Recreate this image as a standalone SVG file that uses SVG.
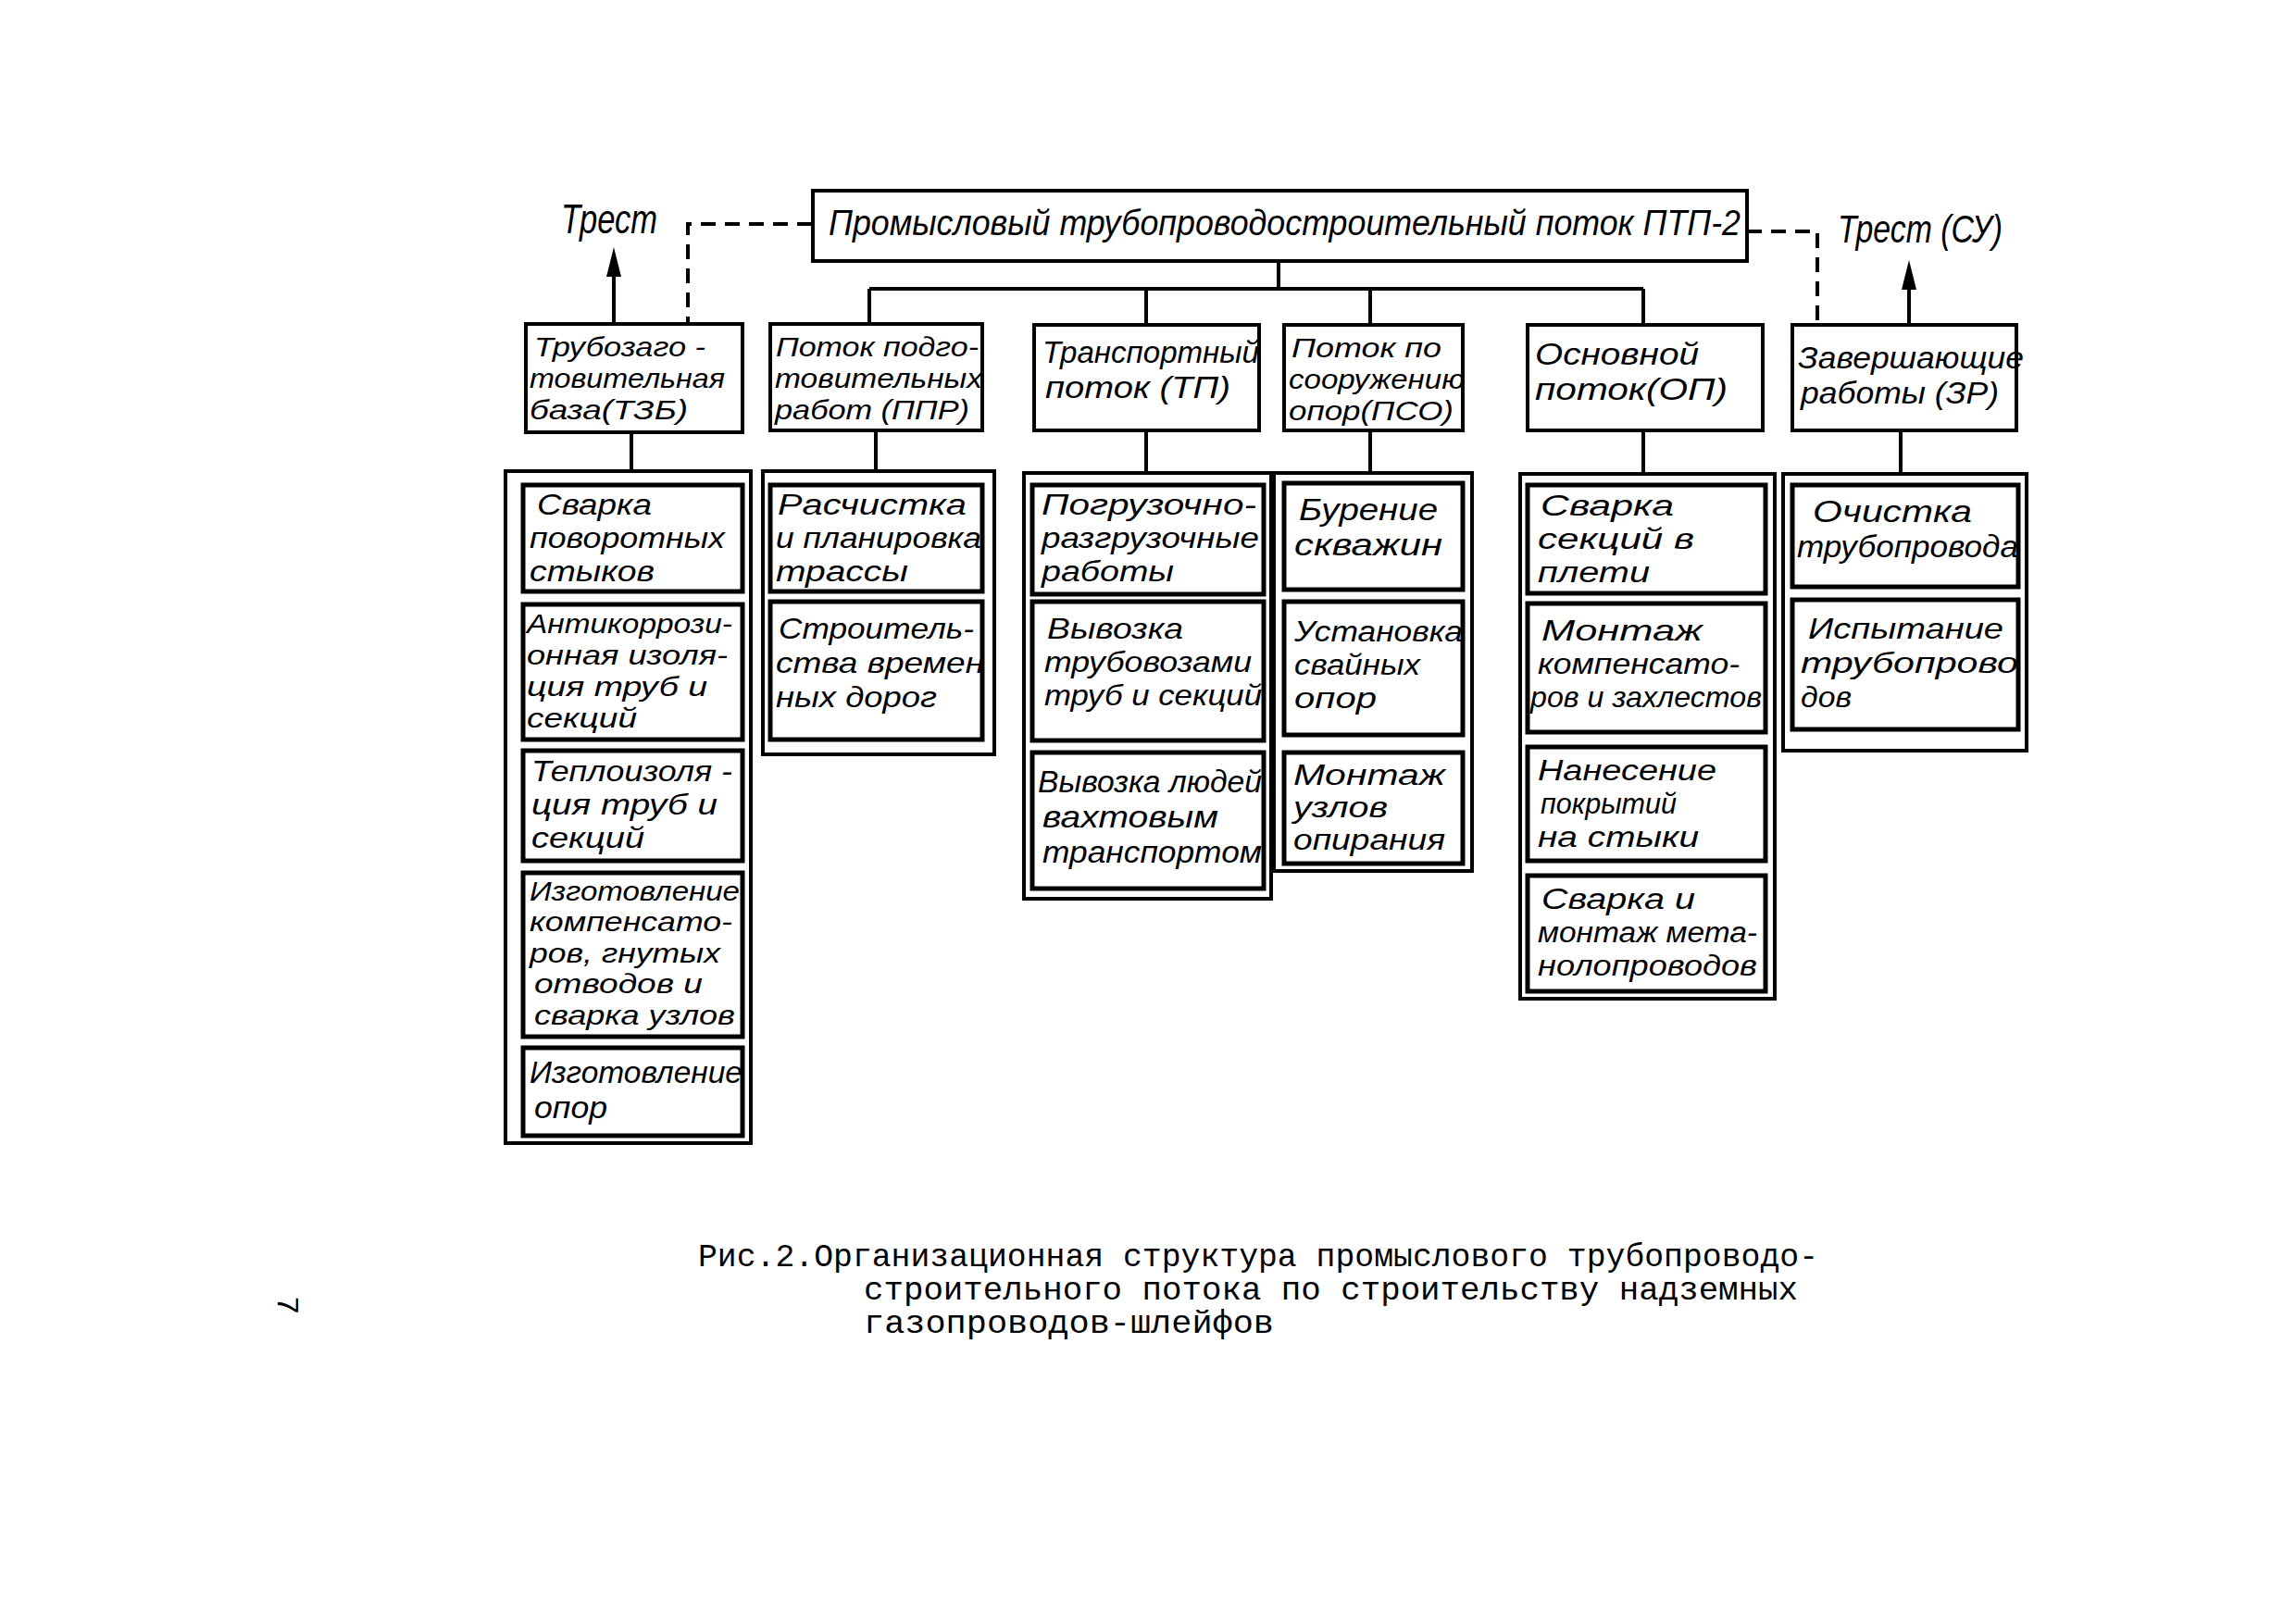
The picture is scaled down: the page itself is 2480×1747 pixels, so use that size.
<svg xmlns="http://www.w3.org/2000/svg" width="2480" height="1747" viewBox="0 0 2480 1747">
<style>
.box{fill:#fff;stroke:#000;stroke-width:4}
.outer{fill:none;stroke:#000;stroke-width:4}
.inner{fill:#fff;stroke:#000;stroke-width:5}
.t{font-family:"Liberation Sans",Arial,sans-serif;font-style:italic;fill:#000;font-size:31px}
.f29{font-size:29px}
.f30{font-size:30px}
.f32{font-size:32px}
.f33{font-size:33px}
.f34{font-size:34px}
.cap{font-family:"Liberation Mono","Courier New",monospace;fill:#000;font-size:35px}
.ln{stroke:#000;stroke-width:4;fill:none}
.dash{stroke-dasharray:16 10}
</style>
<defs>
<marker id="arr" viewBox="0 0 32 16" refX="20" refY="8" markerWidth="32" markerHeight="16" markerUnits="userSpaceOnUse" orient="auto">
<path d="M0,0 L32,8 L0,16 z" fill="#000"/>
</marker>
</defs>
<rect width="2480" height="1747" fill="#fff"/>

<g id="connectors">
<line class="ln" x1="1381" y1="282" x2="1381" y2="312"/>
<line class="ln" x1="939" y1="312" x2="1775" y2="312"/>
<line class="ln" x1="939" y1="312" x2="939" y2="350"/>
<line class="ln" x1="1238" y1="312" x2="1238" y2="351"/>
<line class="ln" x1="1480" y1="312" x2="1480" y2="351"/>
<line class="ln" x1="1775" y1="312" x2="1775" y2="351"/>
<polyline class="ln dash" points="877,242 743,242 743,348"/>
<polyline class="ln dash" points="1887,250 1963,250 1963,350"/>
<line class="ln" x1="663" y1="348" x2="663" y2="279" marker-end="url(#arr)"/>
<line class="ln" x1="2062" y1="350" x2="2062" y2="293" marker-end="url(#arr)"/>
<line class="ln" x1="682" y1="467" x2="682" y2="509"/>
<line class="ln" x1="946" y1="465" x2="946" y2="509"/>
<line class="ln" x1="1238" y1="465" x2="1238" y2="511"/>
<line class="ln" x1="1480" y1="465" x2="1480" y2="511"/>
<line class="ln" x1="1775" y1="465" x2="1775" y2="512"/>
<line class="ln" x1="2053" y1="465" x2="2053" y2="512"/>
</g>

<g id="trest-left"><text class="t" x="606" y="252" style="font-size:44px" textLength="104" lengthAdjust="spacingAndGlyphs">Трест</text></g>
<g id="trest-right"><text class="t" x="1985" y="262" style="font-size:42px" textLength="178" lengthAdjust="spacingAndGlyphs">Трест (СУ)</text></g>

<g id="main">
<rect class="box" x="878" y="206" width="1009" height="76"/>
<text class="t" x="895" y="254" style="font-size:38px" textLength="985" lengthAdjust="spacingAndGlyphs">Промысловый трубопроводостроительный поток ПТП-2</text>
</g>

<g id="tzb">
<rect class="box" x="568" y="350" width="234" height="117"/>
<text class="t f30" x="577" y="385" textLength="185" lengthAdjust="spacingAndGlyphs">Трубозаго -</text>
<text class="t f30" x="572" y="419" textLength="211" lengthAdjust="spacingAndGlyphs">товительная</text>
<text class="t f30" x="572" y="453" textLength="171" lengthAdjust="spacingAndGlyphs">база(ТЗБ)</text>
</g>
<g id="ppr">
<rect class="box" x="832" y="350" width="229" height="115"/>
<text class="t f30" x="838" y="385" textLength="219" lengthAdjust="spacingAndGlyphs">Поток подго-</text>
<text class="t f30" x="837" y="419" textLength="224" lengthAdjust="spacingAndGlyphs">товительных</text>
<text class="t f30" x="837" y="453" textLength="210" lengthAdjust="spacingAndGlyphs">работ (ППР)</text>
</g>
<g id="tp">
<rect class="box" x="1117" y="351" width="243" height="114"/>
<text class="t f34" x="1126" y="392" textLength="234" lengthAdjust="spacingAndGlyphs">Транспортный</text>
<text class="t f34" x="1129" y="430" textLength="200" lengthAdjust="spacingAndGlyphs">поток (ТП)</text>
</g>
<g id="pso">
<rect class="box" x="1387" y="351" width="193" height="114"/>
<text class="t f30" x="1395" y="386" textLength="162" lengthAdjust="spacingAndGlyphs">Поток по</text>
<text class="t f30" x="1392" y="420" textLength="190" lengthAdjust="spacingAndGlyphs">сооружению</text>
<text class="t f30" x="1392" y="454" textLength="178" lengthAdjust="spacingAndGlyphs">опор(ПСО)</text>
</g>
<g id="op">
<rect class="box" x="1650" y="351" width="254" height="114"/>
<text class="t f34" x="1658" y="394" textLength="177" lengthAdjust="spacingAndGlyphs">Основной</text>
<text class="t f34" x="1658" y="432" textLength="208" lengthAdjust="spacingAndGlyphs">поток(ОП)</text>
</g>
<g id="zr">
<rect class="box" x="1936" y="351" width="242" height="114"/>
<text class="t f34" x="1942" y="398" textLength="244" lengthAdjust="spacingAndGlyphs">Завершающие</text>
<text class="t f34" x="1945" y="436" textLength="214" lengthAdjust="spacingAndGlyphs">работы (ЗР)</text>
</g>

<g id="tzb-group">
<rect class="outer" x="546" y="509" width="265" height="726"/>
<g id="tzb-1">
<rect class="inner" x="565" y="524" width="237" height="115"/>
<text class="t" x="580" y="556" textLength="124" lengthAdjust="spacingAndGlyphs">Сварка</text>
<text class="t" x="572" y="592" textLength="211" lengthAdjust="spacingAndGlyphs">поворотных</text>
<text class="t" x="572" y="628" textLength="135" lengthAdjust="spacingAndGlyphs">стыков</text>
</g>
<g id="tzb-2">
<rect class="inner" x="565" y="653" width="237" height="146"/>
<text class="t f30" x="569" y="684" textLength="222" lengthAdjust="spacingAndGlyphs">Антикоррози-</text>
<text class="t f30" x="569" y="718" textLength="217" lengthAdjust="spacingAndGlyphs">онная изоля-</text>
<text class="t f30" x="569" y="752" textLength="195" lengthAdjust="spacingAndGlyphs">ция труб и</text>
<text class="t f30" x="569" y="786" textLength="119" lengthAdjust="spacingAndGlyphs">секций</text>
</g>
<g id="tzb-3">
<rect class="inner" x="565" y="811" width="237" height="119"/>
<text class="t f32" x="574" y="844" textLength="217" lengthAdjust="spacingAndGlyphs">Теплоизоля -</text>
<text class="t f32" x="574" y="880" textLength="201" lengthAdjust="spacingAndGlyphs">ция труб и</text>
<text class="t f32" x="574" y="916" textLength="122" lengthAdjust="spacingAndGlyphs">секций</text>
</g>
<g id="tzb-4">
<rect class="inner" x="565" y="943" width="237" height="177"/>
<text class="t f29" x="572" y="973" textLength="227" lengthAdjust="spacingAndGlyphs">Изготовление</text>
<text class="t f29" x="572" y="1006" textLength="219" lengthAdjust="spacingAndGlyphs">компенсато-</text>
<text class="t f29" x="572" y="1040" textLength="206" lengthAdjust="spacingAndGlyphs">ров, гнутых</text>
<text class="t f29" x="577" y="1073" textLength="182" lengthAdjust="spacingAndGlyphs">отводов и</text>
<text class="t f29" x="577" y="1107" textLength="217" lengthAdjust="spacingAndGlyphs">сварка узлов</text>
</g>
<g id="tzb-5">
<rect class="inner" x="565" y="1132" width="237" height="95"/>
<text class="t f33" x="572" y="1170" textLength="230" lengthAdjust="spacingAndGlyphs">Изготовление</text>
<text class="t f33" x="577" y="1208" textLength="79" lengthAdjust="spacingAndGlyphs">опор</text>
</g>
</g>

<g id="ppr-group">
<rect class="outer" x="824" y="509" width="250" height="306"/>
<g id="ppr-1">
<rect class="inner" x="832" y="524" width="229" height="115"/>
<text class="t" x="840" y="556" textLength="204" lengthAdjust="spacingAndGlyphs">Расчистка</text>
<text class="t" x="838" y="592" textLength="222" lengthAdjust="spacingAndGlyphs">и планировка</text>
<text class="t" x="838" y="628" textLength="143" lengthAdjust="spacingAndGlyphs">трассы</text>
</g>
<g id="ppr-2">
<rect class="inner" x="832" y="650" width="229" height="149"/>
<text class="t f32" x="841" y="690" textLength="211" lengthAdjust="spacingAndGlyphs">Строитель-</text>
<text class="t f32" x="838" y="727" textLength="225" lengthAdjust="spacingAndGlyphs">ства времен</text>
<text class="t f32" x="838" y="764" textLength="174" lengthAdjust="spacingAndGlyphs">ных дорог</text>
</g>
</g>

<g id="tp-group">
<rect class="outer" x="1106" y="511" width="267" height="460"/>
<g id="tp-1">
<rect class="inner" x="1115" y="524" width="250" height="118"/>
<text class="t" x="1125" y="556" textLength="232" lengthAdjust="spacingAndGlyphs">Погрузочно-</text>
<text class="t" x="1125" y="592" textLength="235" lengthAdjust="spacingAndGlyphs">разгрузочные</text>
<text class="t" x="1125" y="628" textLength="143" lengthAdjust="spacingAndGlyphs">работы</text>
</g>
<g id="tp-2">
<rect class="inner" x="1115" y="650" width="250" height="150"/>
<text class="t f32" x="1131" y="690" textLength="147" lengthAdjust="spacingAndGlyphs">Вывозка</text>
<text class="t f32" x="1128" y="726" textLength="224" lengthAdjust="spacingAndGlyphs">трубовозами</text>
<text class="t f32" x="1128" y="762" textLength="235" lengthAdjust="spacingAndGlyphs">труб и секций</text>
</g>
<g id="tp-3">
<rect class="inner" x="1115" y="813" width="250" height="147"/>
<text class="t f33" x="1121" y="856" textLength="242" lengthAdjust="spacingAndGlyphs">Вывозка людей</text>
<text class="t f33" x="1126" y="894" textLength="190" lengthAdjust="spacingAndGlyphs">вахтовым</text>
<text class="t f33" x="1126" y="932" textLength="237" lengthAdjust="spacingAndGlyphs">транспортом</text>
</g>
</g>

<g id="pso-group">
<rect class="outer" x="1376" y="511" width="214" height="430"/>
<g id="pso-1">
<rect class="inner" x="1387" y="522" width="193" height="115"/>
<text class="t f34" x="1403" y="562" textLength="150" lengthAdjust="spacingAndGlyphs">Бурение</text>
<text class="t f34" x="1398" y="600" textLength="160" lengthAdjust="spacingAndGlyphs">скважин</text>
</g>
<g id="pso-2">
<rect class="inner" x="1387" y="650" width="193" height="144"/>
<text class="t" x="1398" y="693" textLength="182" lengthAdjust="spacingAndGlyphs">Установка</text>
<text class="t" x="1398" y="729" textLength="136" lengthAdjust="spacingAndGlyphs">свайных</text>
<text class="t" x="1398" y="765" textLength="89" lengthAdjust="spacingAndGlyphs">опор</text>
</g>
<g id="pso-3">
<rect class="inner" x="1387" y="813" width="193" height="120"/>
<text class="t" x="1397" y="848" textLength="164" lengthAdjust="spacingAndGlyphs">Монтаж</text>
<text class="t" x="1397" y="883" textLength="102" lengthAdjust="spacingAndGlyphs">узлов</text>
<text class="t" x="1397" y="918" textLength="164" lengthAdjust="spacingAndGlyphs">опирания</text>
</g>
</g>

<g id="op-group">
<rect class="outer" x="1642" y="512" width="275" height="567"/>
<g id="op-1">
<rect class="inner" x="1650" y="524" width="257" height="117"/>
<text class="t" x="1664" y="557" textLength="144" lengthAdjust="spacingAndGlyphs">Сварка</text>
<text class="t" x="1661" y="593" textLength="169" lengthAdjust="spacingAndGlyphs">секций в</text>
<text class="t" x="1661" y="629" textLength="121" lengthAdjust="spacingAndGlyphs">плети</text>
</g>
<g id="op-2">
<rect class="inner" x="1650" y="652" width="257" height="139"/>
<text class="t f32" x="1665" y="692" textLength="174" lengthAdjust="spacingAndGlyphs">Монтаж</text>
<text class="t f32" x="1661" y="728" textLength="218" lengthAdjust="spacingAndGlyphs">компенсато-</text>
<text class="t f32" x="1653" y="764" textLength="250" lengthAdjust="spacingAndGlyphs">ров и захлестов</text>
</g>
<g id="op-3">
<rect class="inner" x="1650" y="807" width="257" height="123"/>
<text class="t" x="1661" y="843" textLength="193" lengthAdjust="spacingAndGlyphs">Нанесение</text>
<text class="t" x="1664" y="879" textLength="147" lengthAdjust="spacingAndGlyphs">покрытий</text>
<text class="t" x="1661" y="915" textLength="174" lengthAdjust="spacingAndGlyphs">на стыки</text>
</g>
<g id="op-4">
<rect class="inner" x="1650" y="946" width="257" height="125"/>
<text class="t" x="1665" y="982" textLength="166" lengthAdjust="spacingAndGlyphs">Сварка и</text>
<text class="t" x="1661" y="1018" textLength="237" lengthAdjust="spacingAndGlyphs">монтаж мета-</text>
<text class="t" x="1661" y="1054" textLength="237" lengthAdjust="spacingAndGlyphs">нолопроводов</text>
</g>
</g>

<g id="zr-group">
<rect class="outer" x="1926" y="512" width="263" height="299"/>
<g id="zr-1">
<rect class="inner" x="1936" y="524" width="244" height="110"/>
<text class="t f33" x="1958" y="564" textLength="172" lengthAdjust="spacingAndGlyphs">Очистка</text>
<text class="t f33" x="1941" y="602" textLength="239" lengthAdjust="spacingAndGlyphs">трубопровода</text>
</g>
<g id="zr-2">
<rect class="inner" x="1936" y="648" width="244" height="140"/>
<text class="t f32" x="1953" y="690" textLength="211" lengthAdjust="spacingAndGlyphs">Испытание</text>
<text class="t f32" x="1945" y="727" textLength="235" lengthAdjust="spacingAndGlyphs">трубопрово</text>
<text class="t f32" x="1945" y="764" textLength="55" lengthAdjust="spacingAndGlyphs">дов</text>
</g>
</g>

<g id="caption">
<text class="cap" x="754" y="1368" textLength="1210" lengthAdjust="spacingAndGlyphs">Рис.2.Организационная структура промыслового трубопроводо-</text>
<text class="cap" x="933" y="1404" textLength="1009" lengthAdjust="spacingAndGlyphs">строительного потока по строительству надземных</text>
<text class="cap" x="933" y="1440" textLength="443" lengthAdjust="spacingAndGlyphs">газопроводов-шлейфов</text>
</g>
<g id="page-number"><text class="cap" x="0" y="0" transform="translate(300,1400) rotate(90)" style="font-size:34px">7</text></g>
</svg>
